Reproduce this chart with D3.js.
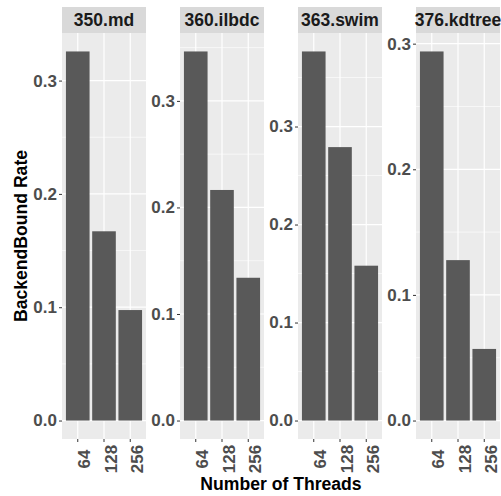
<!DOCTYPE html>
<html>
<head>
<meta charset="utf-8">
<script src="https://cdn.jsdelivr.net/npm/d3@7"></script>
<style>
  body { margin: 0; background: #fff; }
  text { font-family: "Liberation Sans", Arial, sans-serif; font-weight: bold; }
</style>
</head>
<body>
<div id="chart"></div>
<script>
// Data
const benchmarks = ["350.md", "360.ilbdc", "363.swim", "376.kdtree"];
const threads = ["64", "128", "256"];
const md = [0.3257, 0.167, 0.0975];
const ilbdc = [0.3464, 0.2164, 0.134];
const swim = [0.3766, 0.279, 0.158];
const kdtree = [0.2938, 0.1277, 0.057];
const seriesValues = [md, ilbdc, swim, kdtree];
const yTicks = [0, 0.1, 0.2, 0.3];

// Dimensions
const dims = {
  width: 501,
  height: 496,
  left: 62,
  panelW: 84,
  gap: 34,
  stripTop: 7,
  panelTop: 33,
  panelBottom: 439,
};

const svg = d3
  .select("#chart")
  .append("svg")
  .attr("width", dims.width)
  .attr("height", dims.height);

// discrete x with ggplot's 0.6 expansion on each side
const xScale = d3.scalePoint().domain(threads).range([0, dims.panelW]).padding(0.6);
const barW = xScale.step() * 0.9;

benchmarks.forEach((name, i) => {
  const values = seriesValues[i];
  const maxV = d3.max(values);
  const yScale = d3
    .scaleLinear()
    .domain([-0.05 * maxV, 1.05 * maxV])
    .range([dims.panelBottom, dims.panelTop]);

  const px = dims.left + i * (dims.panelW + dims.gap);
  const g = svg.append("g").attr("transform", `translate(${px},0)`);

  // strip
  g.append("rect")
    .attr("y", dims.stripTop)
    .attr("width", dims.panelW)
    .attr("height", dims.panelTop - dims.stripTop)
    .attr("fill", "#d9d9d9");
  g.append("text")
    .attr("x", dims.panelW / 2)
    .attr("y", (dims.stripTop + dims.panelTop) / 2)
    .attr("dy", "0.36em")
    .attr("text-anchor", "middle")
    .attr("font-size", 17.5)
    .attr("fill", "#1a1a1a")
    .text(name);

  // panel
  g.append("rect")
    .attr("y", dims.panelTop)
    .attr("width", dims.panelW)
    .attr("height", dims.panelBottom - dims.panelTop)
    .attr("fill", "#ebebeb");

  // minor grid
  const minor = d3.range(0.05, 1.05 * maxV, 0.1);
  g.selectAll(".minor")
    .data(minor)
    .join("line")
    .attr("x2", dims.panelW)
    .attr("y1", (d) => yScale(d))
    .attr("y2", (d) => yScale(d))
    .attr("stroke", "#fff")
    .attr("stroke-width", 0.6);

  const ticks = yTicks.filter((t) => t <= 1.05 * maxV);
  g.selectAll(".major")
    .data(ticks)
    .join("line")
    .attr("x2", dims.panelW)
    .attr("y1", (d) => yScale(d))
    .attr("y2", (d) => yScale(d))
    .attr("stroke", "#fff")
    .attr("stroke-width", 1.2);

  g.selectAll(".vgrid")
    .data(threads)
    .join("line")
    .attr("x1", (d) => xScale(d))
    .attr("x2", (d) => xScale(d))
    .attr("y1", dims.panelTop)
    .attr("y2", dims.panelBottom)
    .attr("stroke", "#fff")
    .attr("stroke-width", 1.2);

  // bars
  g.selectAll(".bar")
    .data(values)
    .join("rect")
    .attr("x", (d, j) => xScale(threads[j]) - barW / 2)
    .attr("width", barW)
    .attr("y", (d) => yScale(d))
    .attr("height", (d) => yScale(0) - yScale(d))
    .attr("fill", "#595959");

  // y axis
  const yAxis = d3.axisLeft(yScale).tickValues(ticks).tickFormat(d3.format(".1f")).tickSize(3).tickPadding(2);
  const ya = g.append("g").call(yAxis);
  ya.select(".domain").remove();
  ya.selectAll("line").attr("stroke", "#333");
  ya.selectAll("text")
    .attr("font-size", 17)
    .attr("fill", "#4d4d4d")
    .attr("font-family", null);

  // x axis
  const xa = g.append("g");
  xa.selectAll("line")
    .data(threads)
    .join("line")
    .attr("x1", (d) => xScale(d))
    .attr("x2", (d) => xScale(d))
    .attr("y1", dims.panelBottom)
    .attr("y2", dims.panelBottom + 3)
    .attr("stroke", "#333");
  xa.selectAll("text")
    .data(threads)
    .join("text")
    .attr("transform", (d) => `translate(${xScale(d) + 12.5},459) rotate(-90)`)
    .attr("text-anchor", "middle")
    .attr("font-size", 17)
    .attr("fill", "#4d4d4d")
    .text((d) => d);
});

// axis titles
svg.append("text")
  .attr("x", dims.left + (4 * dims.panelW + 3 * dims.gap) / 2)
  .attr("y", 490)
  .attr("text-anchor", "middle")
  .attr("font-size", 17.6)
  .attr("fill", "#000")
  .text("Number of Threads");

svg.append("text")
  .attr("transform", `translate(27,${(dims.panelTop + dims.panelBottom) / 2}) rotate(-90)`)
  .attr("text-anchor", "middle")
  .attr("font-size", 17.6)
  .attr("fill", "#000")
  .text("BackendBound Rate");
</script>
</body>
</html>
